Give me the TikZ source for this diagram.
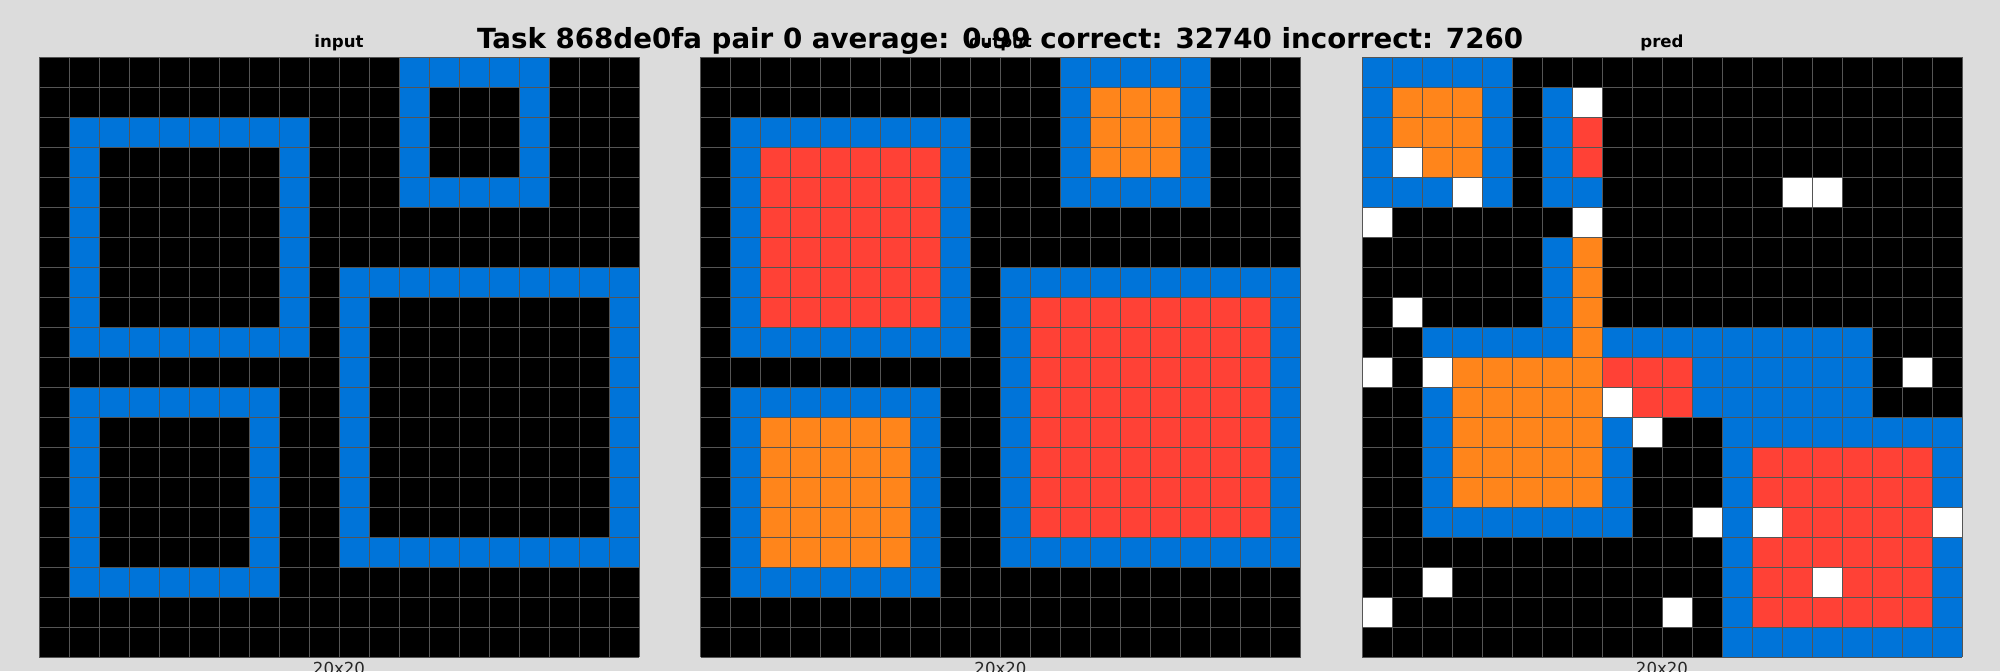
\documentclass[tikz,border=0pt]{standalone}
\usepackage{fontspec}
\setmainfont{DejaVu Sans}
\usetikzlibrary{positioning}
\definecolor{bgcol}{RGB}{220,220,220}
\definecolor{linecol}{RGB}{85,85,85}
\definecolor{arck}{RGB}{0,0,0}
\definecolor{arcb}{RGB}{0,116,217}
\definecolor{arcr}{RGB}{255,65,54}
\definecolor{arco}{RGB}{255,133,27}
\definecolor{arcw}{RGB}{255,255,255}
\tikzset{
  gridline/.style={draw=linecol, line width=0.5pt},
  paneltitle/.style={font=\fontsize{8.3}{10}\selectfont\bfseries, anchor=base},
  sizelabel/.style={font=\fontsize{8.3}{10}\selectfont, anchor=base, text=black!85},
}

\begin{document}
\begin{tikzpicture}[x=0.5pt, y=-0.5pt]
  \fill[bgcol] (0,0) rectangle (2000,671);
  \useasboundingbox (0,0) rectangle (2000,671);

  % input
  \begin{scope}[shift={(39,57)}, x=15pt, y=-15pt]
    \fill[arck] (0,0) rectangle (20,20);
    \foreach \x/\y/\w/\h in {12/0/5/5, 1/2/8/8, 1/11/7/7, 10/7/10/10}{
      \fill[arcb] (\x,\y) rectangle (\x+\w,\y+\h);
      \fill[arck] (\x+1,\y+1) rectangle (\x+\w-1,\y+\h-1);
    }
    \foreach \i in {0,...,20}{
      \draw[gridline] (\i,0) -- (\i,20);
      \draw[gridline] (0,\i) -- (20,\i);
    }
    \node[paneltitle] (intitle) at (10,-0.31) {input};
    \node[sizelabel] (insize) at (10,20.57) {20x20};
  \end{scope}

  % output
  \begin{scope}[shift={(700.5,57)}, x=15pt, y=-15pt]
    \fill[arck] (0,0) rectangle (20,20);
    \foreach \x/\y/\w/\h/\col in {12/0/5/5/o, 1/2/8/8/r, 1/11/7/7/o, 10/7/10/10/r}{
      \fill[arcb] (\x,\y) rectangle (\x+\w,\y+\h);
      \fill[fill=arc\col] (\x+1,\y+1) rectangle (\x+\w-1,\y+\h-1);
    }
    \foreach \i in {0,...,20}{
      \draw[gridline] (\i,0) -- (\i,20);
      \draw[gridline] (0,\i) -- (20,\i);
    }
    \node[paneltitle] (outtitle) at (10,-0.31) {output};
    \node[sizelabel] (outsize) at (10,20.57) {20x20};
  \end{scope}

  % pred
  \begin{scope}[shift={(1362,57)}, x=15pt, y=-15pt]
    \fill[arck] (0,0) rectangle (20,20);
    \foreach \row/\first/\last/\col in {
      0/0/4/b,
      1/0/0/b, 1/1/3/o, 1/4/4/b, 1/6/6/b, 1/7/7/w,
      2/0/0/b, 2/1/3/o, 2/4/4/b, 2/6/6/b, 2/7/7/r,
      3/0/0/b, 3/1/1/w, 3/2/3/o, 3/4/4/b, 3/6/6/b, 3/7/7/r,
      4/0/2/b, 4/3/3/w, 4/4/4/b, 4/6/7/b, 4/14/15/w,
      5/0/0/w, 5/7/7/w,
      6/6/6/b, 6/7/7/o,
      7/6/6/b, 7/7/7/o,
      8/1/1/w, 8/6/6/b, 8/7/7/o,
      9/2/6/b, 9/7/7/o, 9/8/16/b,
      10/0/0/w, 10/2/2/w, 10/3/7/o, 10/8/10/r, 10/11/16/b, 10/18/18/w,
      11/2/2/b, 11/3/7/o, 11/8/8/w, 11/9/10/r, 11/11/16/b,
      12/2/2/b, 12/3/7/o, 12/8/8/b, 12/9/9/w, 12/12/19/b,
      13/2/2/b, 13/3/7/o, 13/8/8/b, 13/12/12/b, 13/13/18/r, 13/19/19/b,
      14/2/2/b, 14/3/7/o, 14/8/8/b, 14/12/12/b, 14/13/18/r, 14/19/19/b,
      15/2/8/b, 15/11/11/w, 15/12/12/b, 15/13/13/w, 15/14/18/r, 15/19/19/w,
      16/12/12/b, 16/13/18/r, 16/19/19/b,
      17/2/2/w, 17/12/12/b, 17/13/14/r, 17/15/15/w, 17/16/18/r, 17/19/19/b,
      18/0/0/w, 18/10/10/w, 18/12/12/b, 18/13/18/r, 18/19/19/b,
      19/12/19/b}{
      \fill[fill=arc\col] (\first,\row) rectangle (\last+1,\row+1);
    }
    \foreach \i in {0,...,20}{
      \draw[gridline] (\i,0) -- (\i,20);
      \draw[gridline] (0,\i) -- (20,\i);
    }
    \node[paneltitle] (predtitle) at (10,-0.31) {pred};
    \node[sizelabel] (predsize) at (10,20.57) {20x20};
  \end{scope}

  \node[font=\fontsize{13.85}{16}\selectfont\bfseries, anchor=base] (title) at (1000,48.3)
    {Task 868de0fa pair 0 average: 0.99 correct: 32740 incorrect: 7260};
\end{tikzpicture}
\end{document}
